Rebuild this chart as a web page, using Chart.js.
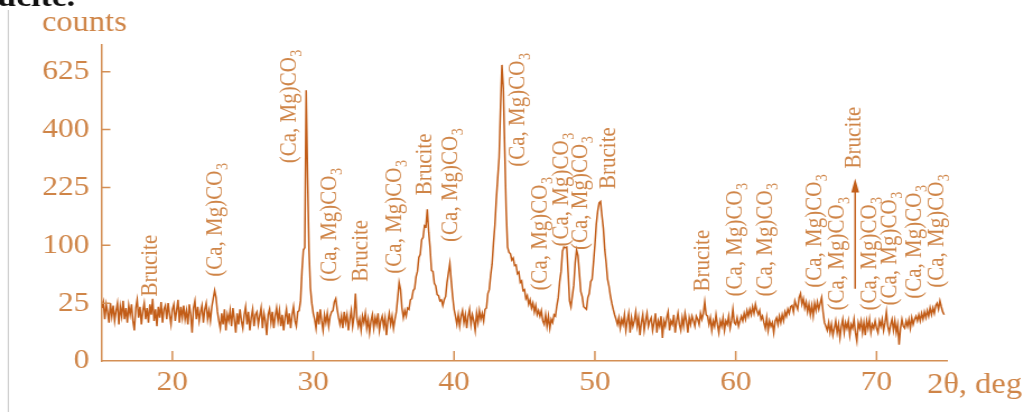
<!DOCTYPE html>
<html>
<head>
<meta charset="utf-8">
<script src="https://cdn.jsdelivr.net/npm/chart.js@4.4.1/dist/chart.umd.min.js"></script>
<style>
  html, body { margin: 0; padding: 0; background: #fff; overflow: hidden; }
  /* the source figure is a little wider than tall in its lettering */
  #xrd { display: block; transform: scaleX(1.1204); transform-origin: 0 0; }
</style>
</head>
<body>
<canvas id="xrd" width="914" height="412"></canvas>
<script>
// 2theta scan: first angle and step (deg)
const scanStart = 15.0;
const scanStep = 0.1;

// counts, one row per degree (15.x ... 74.x)
const counts = [
  21, 26, 13, 24, 18, 11, 25, 15, 23, 12,
  19, 25, 10, 22, 15, 27, 13, 21, 11, 23,
  16, 24, 12, 7, 21, 28, 14, 22, 10, 19,
  25, 13, 21, 11, 24, 16, 29, 12, 20, 9,
  22, 14, 26, 11, 20, 23, 13, 25, 16, 10,
  20, 24, 12, 19, 28, 11, 22, 14, 23, 13,
  19, 10, 24, 16, 6, 21, 27, 13, 22, 12,
  18, 23, 11, 20, 25, 13, 19, 12, 22, 29,
  37, 30, 18, 12, 8, 17, 10, 20, 7, 16,
  12, 19, 9, 21, 13, 6, 17, 10, 20, 12,
  8, 16, 22, 10, 18, 7, 14, 20, 9, 16,
  18, 10, 15, 21, 8, 17, 12, 5, 16, 20,
  11, 18, 8, 15, 21, 12, 19, 9, 16, 7,
  14, 20, 10, 17, 8, 16, 22, 12, 9, 18,
  19, 27, 60, 92, 96, 548, 250, 92, 40, 25,
  17, 13, 8, 18, 10, 20, 12, 7, 16, 11,
  17, 9, 15, 18, 19, 26, 29, 20, 14, 10,
  15, 8, 18, 11, 16, 7, 13, 19, 9, 15,
  34, 14, 9, 13, 7, 15, 11, 17, 8, 13,
  6, 12, 16, 8, 14, 10, 17, 7, 12, 15,
  9, 14, 5, 12, 17, 10, 15, 8, 13, 18,
  30, 46, 38, 21, 14, 19, 15, 21, 20, 28,
  29, 37, 39, 53, 60, 80, 85, 110, 114, 137,
  135, 172, 124, 95, 61, 60, 45, 42, 33, 32,
  27, 28, 23, 28, 31, 46, 58, 71, 48, 31,
  20, 15, 10, 16, 9, 15, 19, 11, 16, 8,
  15, 20, 10, 16, 12, 7, 17, 11, 19, 13,
  17, 12, 20, 21, 34, 38, 55, 70, 104, 138,
  195, 250, 310, 480, 655, 555, 330, 170, 97, 88,
  86, 76, 79, 68, 69, 57, 59, 46, 48, 37,
  38, 29, 32, 24, 28, 21, 25, 18, 23, 16,
  19, 15, 19, 12, 10, 16, 9, 15, 8, 13,
  11, 16, 15, 23, 30, 47, 60, 90, 97, 96,
  97, 58, 27, 22, 32, 43, 72, 92, 83, 57,
  36, 31, 22, 21, 20, 30, 34, 47, 50, 72,
  100, 140, 168, 187, 190, 158, 132, 93, 72, 50,
  42, 32, 25, 20, 16, 13, 10, 14, 8, 13,
  10, 16, 7, 12, 17, 6, 14, 9, 12, 18,
  9, 14, 5, 11, 16, 7, 12, 17, 9, 12,
  14, 7, 11, 17, 6, 12, 9, 15, 4, 12,
  9, 14, 18, 7, 12, 10, 16, 6, 12, 17,
  10, 7, 14, 9, 17, 12, 6, 14, 10, 15,
  12, 9, 15, 13, 10, 17, 13, 17, 26, 16,
  15, 10, 14, 7, 12, 9, 16, 10, 6, 12,
  9, 14, 7, 12, 10, 15, 8, 12, 20, 11,
  10, 14, 9, 12, 15, 12, 17, 13, 19, 15,
  20, 16, 22, 17, 24, 19, 16, 19, 13, 15,
  11, 8, 14, 7, 12, 9, 11, 6, 12, 14,
  10, 15, 11, 16, 12, 18, 15, 20, 17, 22,
  23, 18, 27, 23, 20, 30, 34, 24, 29, 21,
  26, 18, 24, 16, 23, 15, 25, 19, 26, 20,
  25, 30, 18, 11, 9, 7, 11, 6, 10, 5,
  8, 12, 6, 10, 4, 9, 13, 6, 11, 8,
  12, 5, 10, 8, 13, 6, 3, 11, 8, 12,
  6, 11, 5, 12, 8, 13, 6, 10, 8, 12,
  8, 6, 12, 9, 13, 7, 11, 18, 9, 6,
  10, 13, 7, 12, 6, 10, 2, 8, 13, 9,
  8, 12, 9, 13, 8, 14, 10, 13, 15, 12,
  16, 12, 17, 13, 18, 14, 19, 15, 21, 16,
  21, 17, 23, 25, 20, 27, 22, 18, 16
];

const xTicks = [20, 30, 40, 50, 60, 70];
const yTicks = [0, 25, 100, 225, 400, 625];

// phase labels: name, 2theta of the label, counts level where the text starts
const CMC = "(Ca, Mg)CO3";
const peakNames = ["Brucite", CMC, CMC, CMC, "Brucite", CMC, "Brucite", CMC, CMC, CMC, CMC, CMC,
  "Brucite", "Brucite", CMC, CMC, CMC, CMC, "Brucite", CMC, CMC, CMC, CMC];
const peakAngles = [18.41, 23.03, 28.28, 31.19, 33.36, 35.81, 37.94, 39.72, 44.55, 46.11, 47.6, 48.95,
  50.94, 57.68, 59.96, 62.09, 65.64, 67.2, 68.41, 69.48, 70.97, 72.67, 74.3];
const peakLevels = [31, 53, 292, 47, 47, 57, 205, 106, 282, 37, 98, 92,
  221, 36, 31, 31, 40, 19, 277, 19, 23, 29, 40];

// arrow pointing to a brucite reflection
const arrowAngle = 68.48;
const arrowFrom = 39;
const arrowTo = 249;

const lineColor = "#c25d18";
const axisColor = "#d48f55";
const textColor = "#cf8548";

// square-root intensity axis (0, 25, 100 ... equally spaced)
class SqrtScale extends Chart.LinearScale {
    buildTicks() {
        return yTicks.map(v => ({ value: v }));
    }
    getPixelForValue(value) {
        const lo = Math.sqrt(this.min), hi = Math.sqrt(this.max);
        return this.getPixelForDecimal((Math.sqrt(Math.max(value || 0, 0)) - lo) / (hi - lo));
    }
    getValueForPixel(pixel) {
        const lo = Math.sqrt(this.min), hi = Math.sqrt(this.max);
        const s = lo + this.getDecimalForPixel(pixel) * (hi - lo);
        return s * s;
    }
}
SqrtScale.id = "sqrt";
SqrtScale.defaults = {};
Chart.register(SqrtScale);

const points = counts.map((c, i) => ({ x: +(scanStart + i * scanStep).toFixed(2), y: c }));

// ----------- extra drawing: inward ticks, axis names, phase labels ----------
const decor = {
    id: "decor",
    afterDatasetsDraw(chart) {
        const { ctx, chartArea: a, scales: { x, y } } = chart;
        ctx.save();

        ctx.strokeStyle = axisColor;
        ctx.lineWidth = 1.5;
        ctx.beginPath();
        xTicks.forEach(v => {
            const px = x.getPixelForValue(v);
            ctx.moveTo(px, a.bottom);
            ctx.lineTo(px, a.bottom - 10);
        });
        yTicks.slice(1).forEach(v => {
            const py = y.getPixelForValue(v);
            ctx.moveTo(a.left, py);
            ctx.lineTo(a.left + 7.5, py);
        });
        ctx.stroke();

        // page border and cut caption of the source scan
        ctx.strokeStyle = "#c8c8c8";
        ctx.lineWidth = 1;
        ctx.beginPath();
        ctx.moveTo(7.4, 10);
        ctx.lineTo(7.4, 412);
        ctx.stroke();
        ctx.fillStyle = "#111";
        ctx.font = 'bold 30px "Liberation Serif"';
        ctx.textAlign = "right";
        ctx.textBaseline = "alphabetic";
        ctx.fillText("Brucite.", 67, 6);

        ctx.fillStyle = textColor;
        ctx.textAlign = "left";
        ctx.font = '29px "Liberation Serif"';
        ctx.fillText("counts", 37.5, 31);
        ctx.fillText("2θ, deg", a.right - 17.8, 392.7);

        peakNames.forEach((name, i) => {
            const px = x.getPixelForValue(peakAngles[i]);
            const py = y.getPixelForValue(peakLevels[i]);
            const sub = name.endsWith("3");
            const main = sub ? name.slice(0, -1) : name;
            ctx.save();
            ctx.translate(px, py);
            ctx.rotate(-Math.PI / 2);
            ctx.font = '21px "Liberation Serif"';
            ctx.fillText(main, 0, 5.8);
            if (sub) {
                const w = ctx.measureText(main).width;
                ctx.font = '14px "Liberation Serif"';
                ctx.fillText("3", w + 0.5, 10.8);
            }
            ctx.restore();
        });

        const ax = x.getPixelForValue(arrowAngle);
        const y0 = y.getPixelForValue(arrowFrom);
        const y1 = y.getPixelForValue(arrowTo);
        ctx.strokeStyle = lineColor;
        ctx.fillStyle = lineColor;
        ctx.lineWidth = 1.5;
        ctx.beginPath();
        ctx.moveTo(ax, y0);
        ctx.lineTo(ax, y1 + 10);
        ctx.stroke();
        ctx.beginPath();
        ctx.moveTo(ax, y1);
        ctx.lineTo(ax - 3.5, y1 + 14);
        ctx.lineTo(ax + 3.5, y1 + 14);
        ctx.closePath();
        ctx.fill();

        ctx.restore();
    }
};

const tickFont = { family: '"Liberation Serif"', size: 28 };

new Chart(document.getElementById("xrd"), {
    type: "line",
    data: {
        datasets: [{
            data: points,
            borderColor: lineColor,
            borderWidth: 1.5,
            pointRadius: 0,
            tension: 0,
            fill: false
        }]
    },
    options: {
        responsive: false,
        animation: false,
        events: [],
        layout: { padding: { left: 0, top: 45, right: 68.8, bottom: 0 } },
        plugins: { legend: { display: false }, tooltip: { enabled: false } },
        scales: {
            x: {
                type: "linear",
                min: 15,
                max: 75,
                afterBuildTicks: s => { s.ticks = xTicks.map(v => ({ value: v })); },
                afterFit: s => { s.height = 51; },
                grid: { display: false, drawTicks: false },
                border: { display: true, color: axisColor, width: 1.5 },
                ticks: {
                    color: textColor, font: tickFont, padding: 5,
                    maxRotation: 0, autoSkip: false, callback: v => String(v)
                }
            },
            y: {
                type: "sqrt",
                min: 0,
                max: 746,
                afterFit: s => { s.width = 91; },
                grid: { display: false, drawTicks: false },
                border: { display: true, color: axisColor, width: 1.5 },
                ticks: {
                    color: textColor, font: tickFont, padding: 11.3,
                    autoSkip: false, callback: v => String(v)
                }
            }
        }
    },
    plugins: [decor]
});
</script>
</body>
</html>
